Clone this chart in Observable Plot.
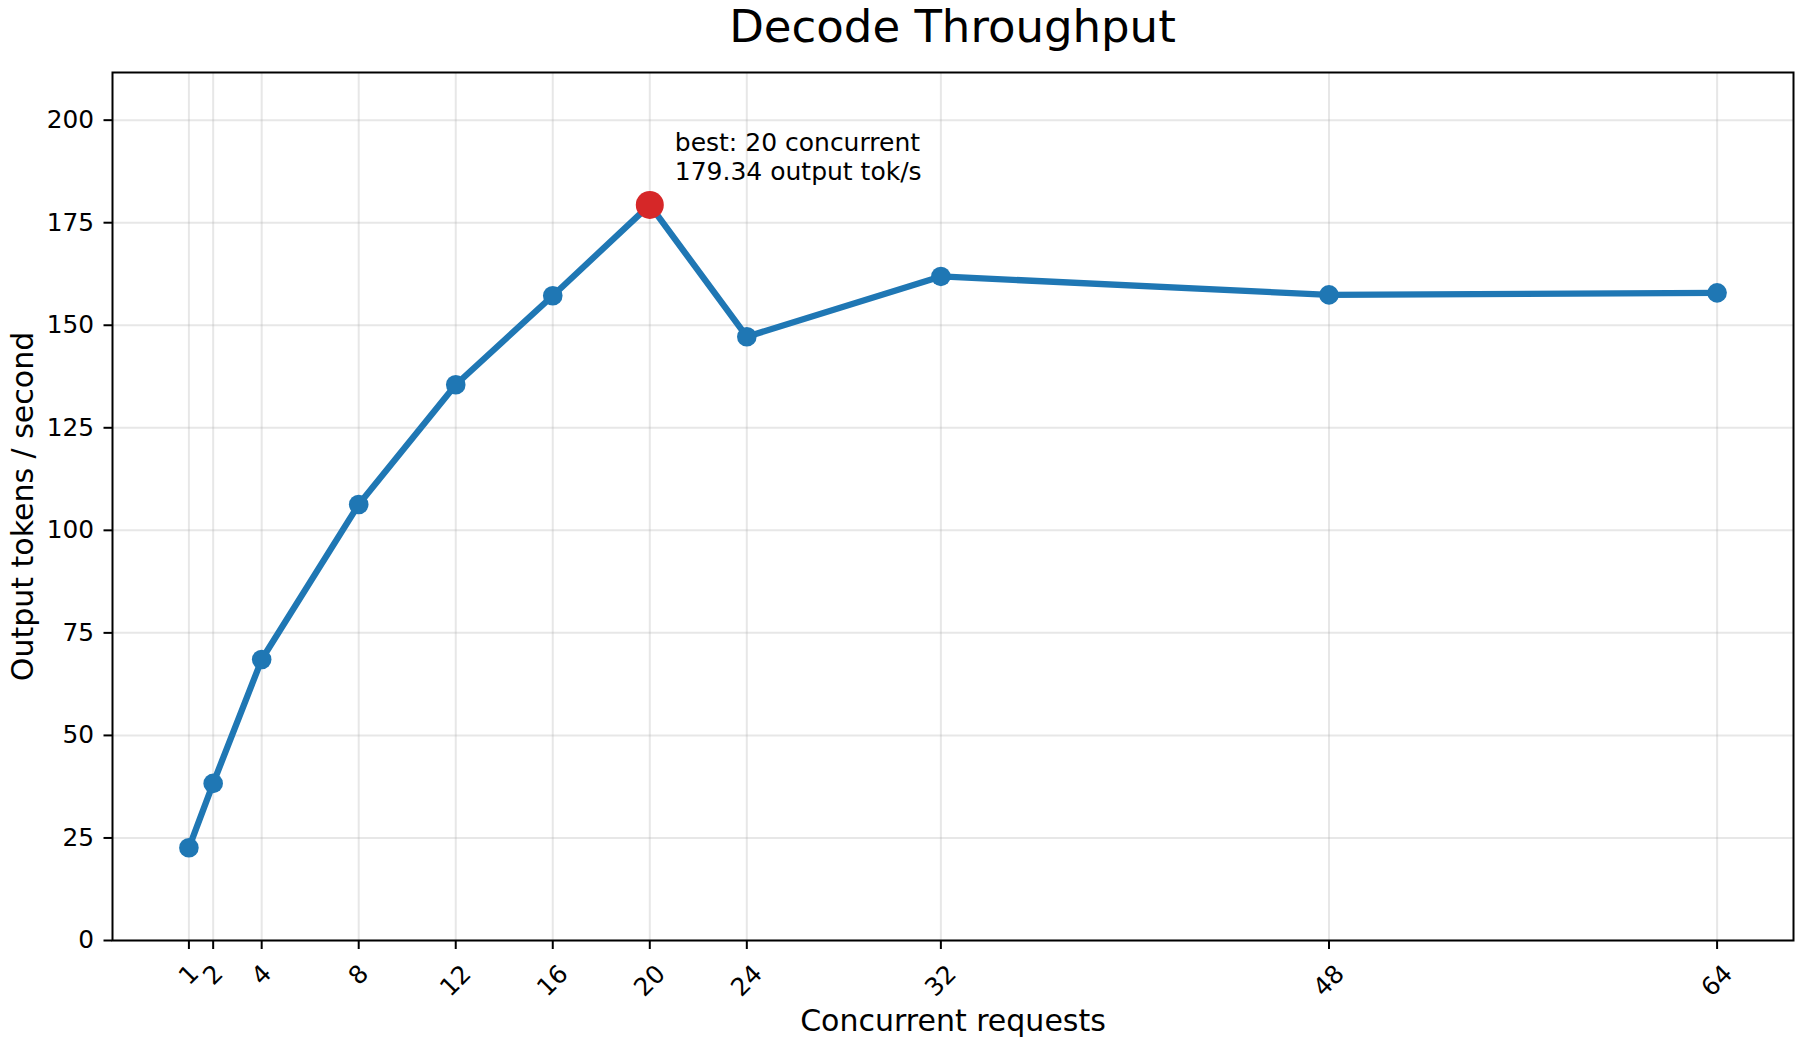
<!DOCTYPE html>
<html>
<head>
<meta charset="utf-8">
<script src="https://cdn.jsdelivr.net/npm/d3@7"></script>
<script src="https://cdn.jsdelivr.net/npm/@observablehq/plot@0.6"></script>
<style>
  html, body { margin: 0; padding: 0; background: #fff; overflow: hidden; }
  #title {
    font-family: "DejaVu Sans", sans-serif;
    font-size: 45px;
    line-height: 53px;
    height: 53px;
    margin-left: 112px;
    width: 1681px;
    text-align: center;
    color: #000;
    white-space: nowrap;
  }
  #chart svg { display: block; }
</style>
</head>
<body>
<div id="title">Decode Throughput</div>
<div id="chart"></div>
<script>
const concurrency = [1, 2, 4, 8, 12, 16, 20, 24, 32, 48, 64];
const throughput = [22.6, 38.3, 68.5, 106.3, 135.5, 157.2, 179.34, 147.2, 161.9, 157.4, 157.9];
const xTicks = [1, 2, 4, 8, 12, 16, 20, 24, 32, 48, 64];
const yTicks = [0, 25, 50, 75, 100, 125, 150, 175, 200];
const xLabel = "Concurrent requests";
const yLabel = "Output tokens / second";

const data = concurrency.map((c, i) => ({c, v: throughput[i]}));
const bestIdx = d3.maxIndex(throughput);
const best = data[bestIdx];
const annText = `best: ${best.c} concurrent\n${best.v.toFixed(2)} output tok/s`;

const xPad = (d3.max(concurrency) - d3.min(concurrency)) * 0.05;
const blue = "#1f77b4";
const red = "#d62728";

const chart = Plot.plot({
  width: 1800,
  height: 991,
  marginTop: 19,
  marginBottom: 104,
  marginLeft: 112,
  marginRight: 7,
  style: {fontFamily: "DejaVu Sans, sans-serif", fontSize: "24.8px", color: "#000", background: "#fff"},
  x: {domain: [d3.min(concurrency) - xPad, d3.max(concurrency) + xPad]},
  y: {domain: [0, best.v * 1.18]},
  marks: [
    Plot.gridX(xTicks, {stroke: "#b0b0b0", strokeOpacity: 0.3, strokeWidth: 2}),
    Plot.gridY(yTicks, {stroke: "#b0b0b0", strokeOpacity: 0.3, strokeWidth: 2}),
    Plot.axisY({ticks: yTicks, tickSize: 8.5, tickPadding: 10, fontSize: 24.8, strokeWidth: 2, label: null}),
    Plot.axisX({ticks: xTicks, tickSize: 9, tickFormat: () => "", strokeWidth: 2, label: null}),
    Plot.text(xTicks.filter(d => d < 10), {x: d => d, text: d => String(d), frameAnchor: "bottom", rotate: -45, textAnchor: "middle", lineAnchor: "middle", dy: 34.5, fontSize: 24.8, fill: "#000"}),
    Plot.text(xTicks.filter(d => d >= 10), {x: d => d, text: d => String(d), frameAnchor: "bottom", rotate: -45, textAnchor: "middle", lineAnchor: "middle", dy: 40.5, fontSize: 24.8, fill: "#000"}),
    Plot.text([xLabel], {text: d => d, frameAnchor: "bottom", textAnchor: "middle", lineAnchor: "middle", dy: 81, fontSize: 30, fill: "#000"}),
    Plot.text([yLabel], {text: d => d, frameAnchor: "left", rotate: -90, textAnchor: "middle", lineAnchor: "middle", dx: -89, fontSize: 30, fill: "#000"}),
    Plot.line(data, {x: "c", y: "v", stroke: blue, strokeWidth: 6.3, strokeLinejoin: "round", strokeLinecap: "round"}),
    Plot.dot(data, {x: "c", y: "v", r: 9.8, fill: blue, stroke: "none"}),
    Plot.dot([best], {x: "c", y: "v", r: 14, fill: red, stroke: "none"}),
    Plot.text([best], {x: "c", y: "v", text: () => annText, textAnchor: "start", lineAnchor: "middle", lineHeight: 1.14, dx: 25, dy: -48.5, fontSize: 25, fill: "#000"}),
    Plot.frame({stroke: "#000", strokeWidth: 2})
  ]
});
document.getElementById("chart").appendChild(chart);
</script>
</body>
</html>
